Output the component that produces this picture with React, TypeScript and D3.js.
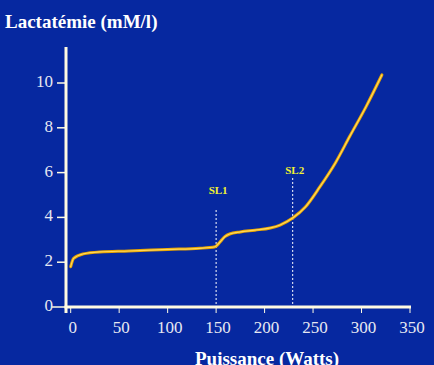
import { useRef, useEffect } from "react";
import * as d3 from "d3";

// puissance (W) / lactatémie (mM/l)
const watts = [0, 3, 13, 30, 60, 100, 133, 149, 154, 159, 164, 175, 190, 206, 216, 229, 242, 257, 273, 288, 305, 321];
const lactate = [1.8, 2.17, 2.37, 2.46, 2.5, 2.57, 2.62, 2.69, 2.9, 3.14, 3.26, 3.35, 3.43, 3.53, 3.66, 3.97, 4.46, 5.36, 6.43, 7.63, 8.97, 10.36];

const xTicks = [0, 50, 100, 150, 200, 250, 300, 350];
const yTicks = [0, 2, 4, 6, 8, 10];

// seuils lactiques : position (W), haut du trait et niveau du libellé (mM/l)
const thresholdLabels = ["SL1", "SL2"];
const thresholdWatts = [150, 229];
const thresholdTops = [4.33, 5.76];
const thresholdLabelLevels = [5.04, 5.94];

export default function App() {
  const svgRef = useRef<SVGSVGElement>(null);

  useEffect(() => {
    document.body.style.margin = "0";
    const svg = d3.select(svgRef.current);
    svg.selectAll("*").remove();

    const width = 434;
    const height = 365;
    const font = "'Liberation Serif', 'Times New Roman', serif";
    const axisColor = "#fffbe2";

    const x = d3.scaleLinear().domain([0, 350]).range([70.7, 410]);
    const y = d3.scaleLinear().domain([0, 10]).range([307, 83]);

    svg.attr("width", width).attr("height", height).style("display", "block");

    svg.append("rect").attr("width", width).attr("height", height).attr("fill", "#0628a0");

    // titres
    svg
      .append("text")
      .attr("x", 5)
      .attr("y", 28)
      .attr("fill", "#ffffff")
      .style("font-family", font)
      .style("font-weight", "bold")
      .style("font-size", "19px")
      .text("Lactatémie (mM/l)");

    svg
      .append("text")
      .attr("x", 267)
      .attr("y", 365)
      .attr("text-anchor", "middle")
      .attr("fill", "#ffffff")
      .style("font-family", font)
      .style("font-weight", "bold")
      .style("font-size", "19px")
      .text("Puissance (Watts)");

    // axe y
    svg
      .append("line")
      .attr("x1", 66)
      .attr("x2", 66)
      .attr("y1", 47)
      .attr("y2", 313)
      .attr("stroke", axisColor)
      .attr("stroke-width", 3);

    const yg = svg.append("g");
    yg.selectAll("line")
      .data(yTicks)
      .join("line")
      .attr("x1", (d) => (d === 0 ? 52 : 57))
      .attr("x2", 66)
      .attr("y1", (d) => y(d))
      .attr("y2", (d) => y(d))
      .attr("stroke", axisColor)
      .attr("stroke-width", 1.5);
    yg.selectAll("text")
      .data(yTicks)
      .join("text")
      .attr("x", 53)
      .attr("y", (d) => y(d) - 2)
      .attr("dy", "0.35em")
      .attr("text-anchor", "end")
      .attr("fill", "#e6e8f2")
      .style("font-family", font)
      .style("font-size", "17px")
      .text((d) => d);

    // axe x
    svg
      .append("line")
      .attr("x1", 64.5)
      .attr("x2", x(350) + 1)
      .attr("y1", 307)
      .attr("y2", 307)
      .attr("stroke", axisColor)
      .attr("stroke-width", 3);

    const xg = svg.append("g");
    xg.selectAll("line")
      .data(xTicks)
      .join("line")
      .attr("x1", (d) => x(d))
      .attr("x2", (d) => x(d))
      .attr("y1", 307)
      .attr("y2", 313)
      .attr("stroke", axisColor)
      .attr("stroke-width", 1);
    xg.selectAll("text")
      .data(xTicks)
      .join("text")
      .attr("x", (d) => x(d) + 2)
      .attr("y", 333)
      .attr("text-anchor", "middle")
      .attr("fill", "#e6e8f2")
      .style("font-family", font)
      .style("font-size", "17px")
      .text((d) => d);

    // seuils
    const th = svg.append("g");
    th.selectAll("line")
      .data(thresholdWatts)
      .join("line")
      .attr("x1", (d) => x(d))
      .attr("x2", (d) => x(d))
      .attr("y1", (_, i) => y(thresholdTops[i]))
      .attr("y2", 307)
      .attr("stroke", "#ffffff")
      .attr("stroke-width", 1)
      .attr("stroke-dasharray", "2,2");
    th.selectAll("text")
      .data(thresholdWatts)
      .join("text")
      .attr("x", (d) => x(d) + 2)
      .attr("y", (_, i) => y(thresholdLabelLevels[i]))
      .attr("text-anchor", "middle")
      .attr("fill", "#f2f230")
      .style("font-family", font)
      .style("font-weight", "bold")
      .style("font-size", "11px")
      .text((_, i) => thresholdLabels[i]);

    // courbe
    const pts: [number, number][] = watts.map((w, i) => [w, lactate[i]]);
    const line = d3
      .line<[number, number]>()
      .x((d) => x(d[0]))
      .y((d) => y(d[1]))
      .curve(d3.curveMonotoneX);

    svg
      .append("path")
      .datum(pts)
      .attr("d", line)
      .attr("fill", "none")
      .attr("stroke", "#e8a400")
      .attr("stroke-width", 3)
      .attr("stroke-linecap", "round");
    svg
      .append("path")
      .datum(pts)
      .attr("d", line)
      .attr("fill", "none")
      .attr("stroke", "#ffd85a")
      .attr("stroke-width", 1.2)
      .attr("stroke-linecap", "round");
  }, []);

  return <svg ref={svgRef} />;
}
